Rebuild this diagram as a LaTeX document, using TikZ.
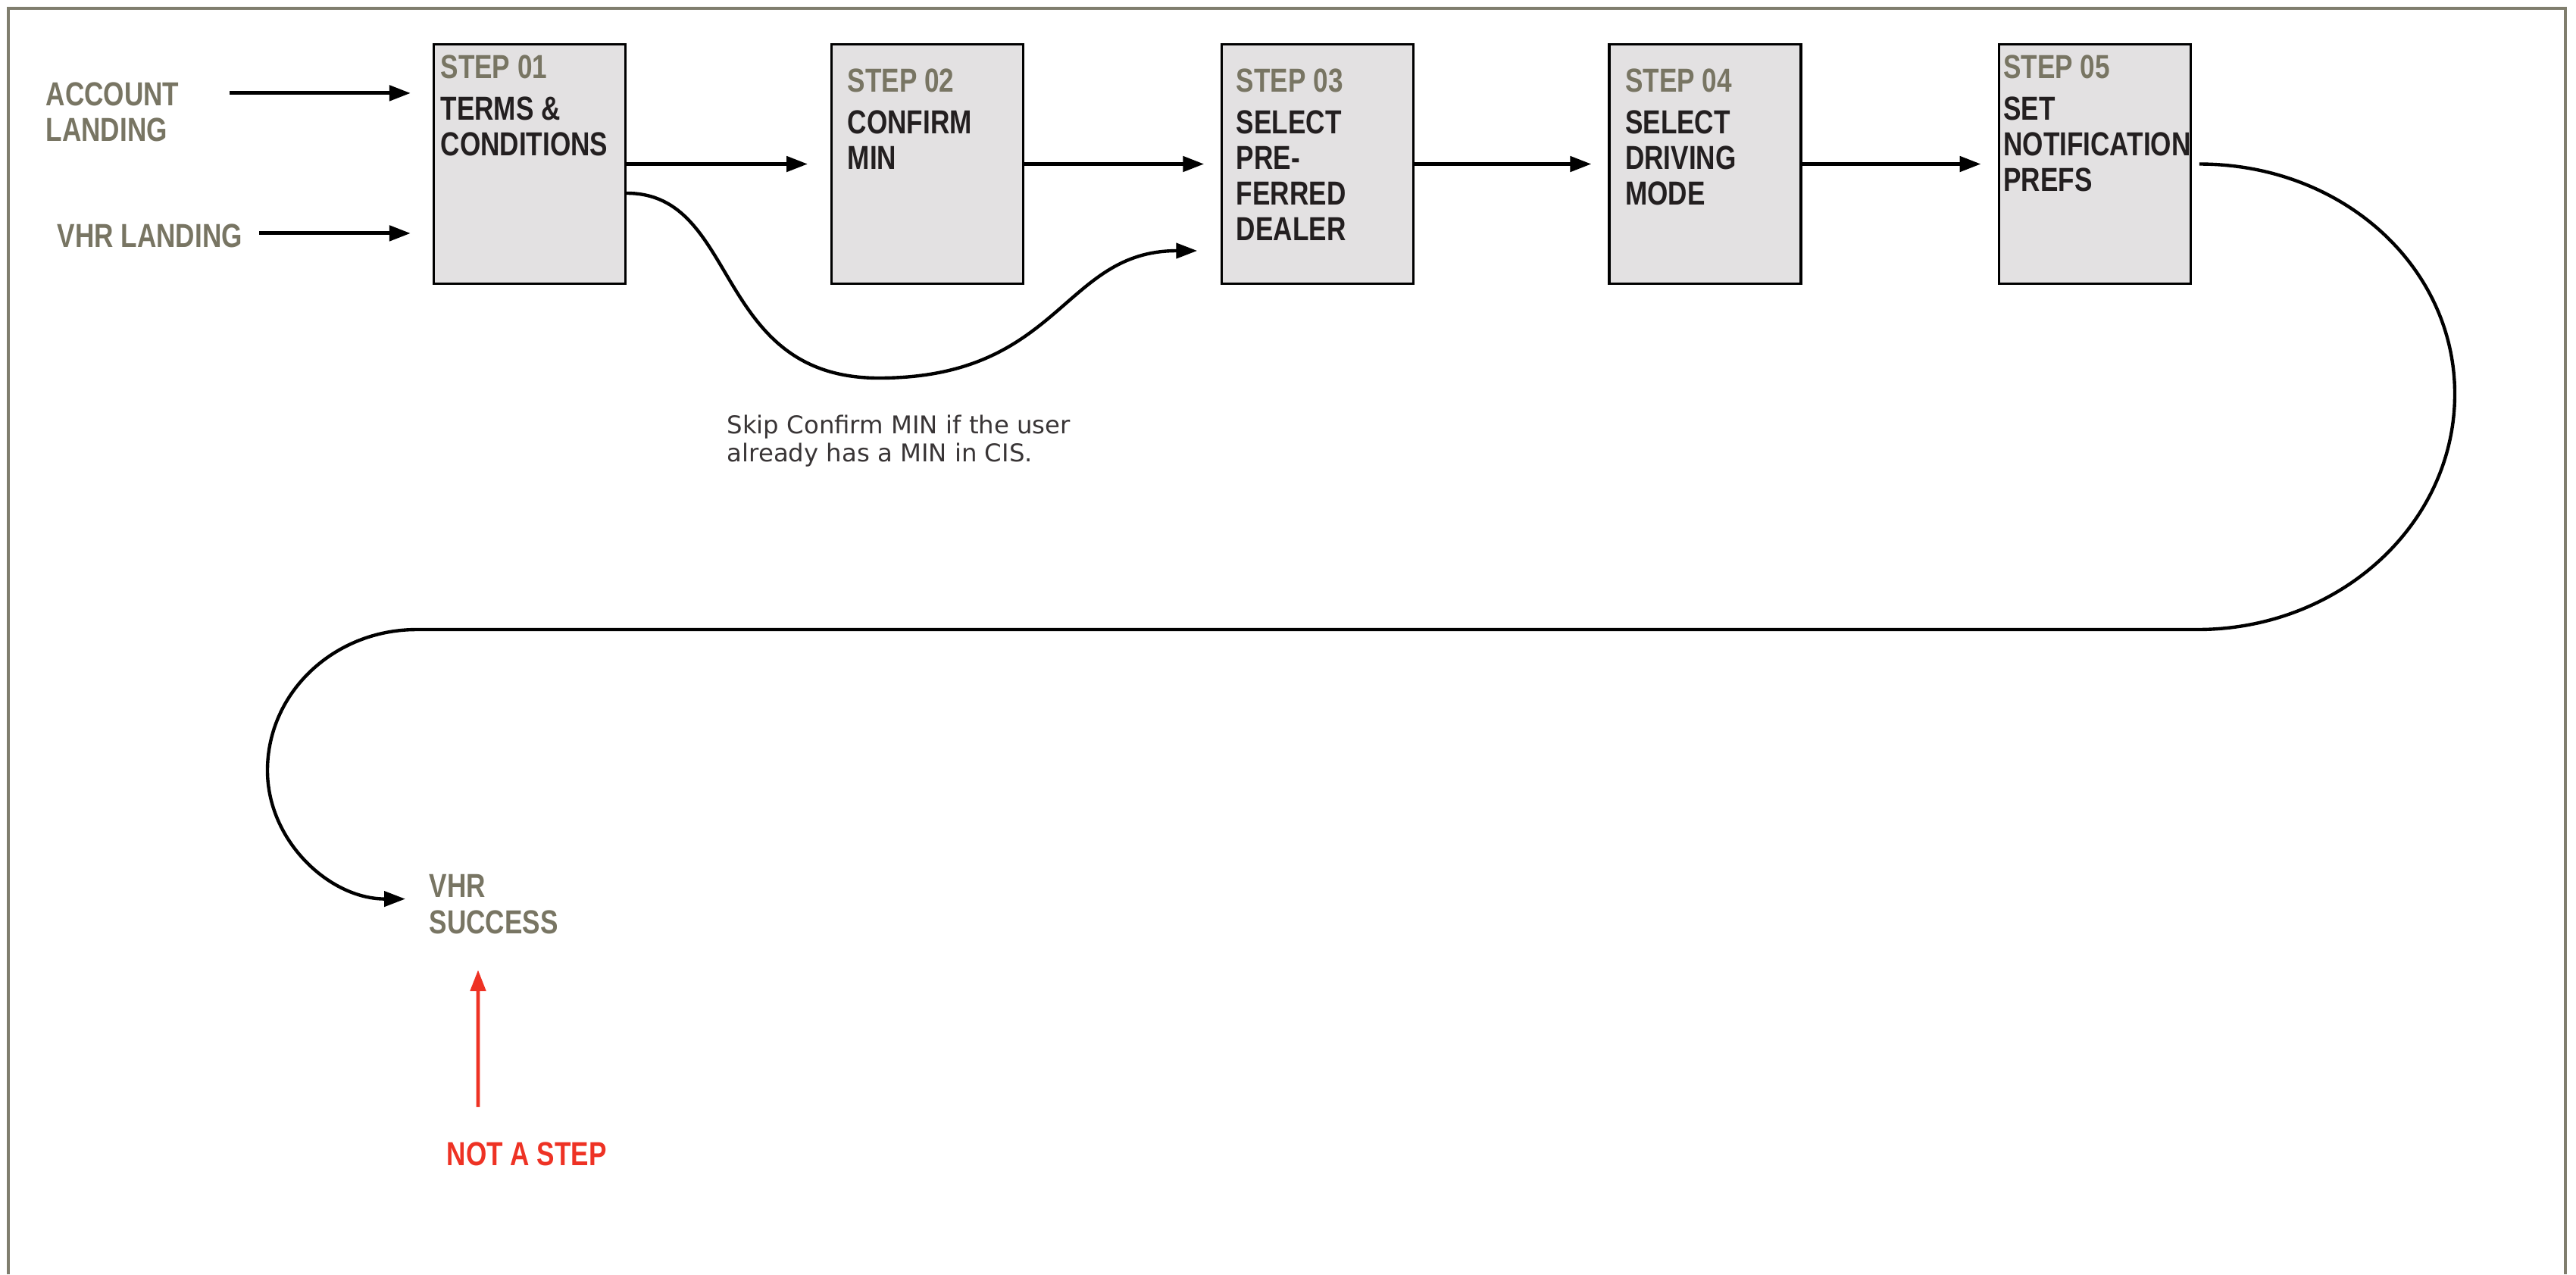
\documentclass[tikz,border=0pt]{standalone}
\usepackage{fontspec}
\usepackage{tikz}
\usetikzlibrary{arrows.meta,positioning,calc}
\newfontfamily\condfont[FakeStretch=0.8]{Liberation Sans Bold}
\newfontfamily\notefont{DejaVu Sans}
\definecolor{labelgrey}{RGB}{120,117,99}
\definecolor{framegrey}{RGB}{128,126,110}
\definecolor{boxgrey}{RGB}{227,225,226}
\definecolor{inkblack}{RGB}{35,31,32}
\definecolor{alertred}{RGB}{238,50,36}
\newcommand{\stepno}[1]{\textcolor{labelgrey}{STEP #1}}
\tikzset{
  % Step box: grey card, its text is set separately in the top-left corner
  stepbox/.style={draw, rectangle, fill=boxgrey, minimum width=2.53cm, minimum height=3.16cm,
                  line width=0.9pt, inner sep=0pt},
  steptext/.style={anchor=north west, align=left, inner sep=0pt, text=inkblack,
                   font=\condfont\fontsize{12.5}{13.4}\selectfont},
  % Entry / exit labels outside the boxes
  entrylabel/.style={steptext, text=labelgrey},
  alertlabel/.style={steptext, text=alertred},
  notelabel/.style={anchor=north west, align=left, inner sep=0pt, text=inkblack!90,
                    font=\notefont\fontsize{9.2}{10.5}\selectfont},
  % Arrows
  flowarr/.style={-{Triangle[length=2.8mm,width=2mm]}, line width=1.4pt},
  flowcurve/.style={flowarr, line width=1.25pt},
  redarr/.style={flowarr, alertred}
}
\begin{document}
\begin{tikzpicture}

\useasboundingbox (0,0) rectangle (34,-16.82);

% Page frame (open at the bottom)
\draw[framegrey, line width=1.1pt] (0.11,-16.82) -- (0.11,-0.11) -- (33.86,-0.11) -- (33.86,-16.82);

% Step boxes, left to right
\node[stepbox] (s1) at (6.99,-2.165) {};
\node[stepbox, right=2.69cm of s1] (s2) {};
\node[stepbox, right=2.59cm of s2] (s3) {};
\node[stepbox, right=2.55cm of s3] (s4) {};
\node[stepbox, right=2.58cm of s4] (s5) {};

\node[steptext] (t1) at ([xshift=1mm,yshift=-1.5mm]s1.north west)
  {\stepno{01}\\[2.3pt]TERMS \&\\CONDITIONS};
\node[steptext] (t2) at ([xshift=2.2mm,yshift=-3.3mm]s2.north west)
  {\stepno{02}\\[2.3pt]CONFIRM\\MIN};
\node[steptext] (t3) at ([xshift=2mm,yshift=-3.3mm]s3.north west)
  {\stepno{03}\\[2.3pt]SELECT\\PRE-\\FERRED\\DEALER};
\node[steptext] (t4) at ([xshift=2.2mm,yshift=-3.3mm]s4.north west)
  {\stepno{04}\\[2.3pt]SELECT\\DRIVING\\MODE};
\node[steptext] (t5) at ([xshift=0.7mm,yshift=-1.5mm]s5.north west)
  {\stepno{05}\\[2.3pt]SET\\NOTIFICATION\\PREFS};

% Entry points and end point
\node[entrylabel] (acct) at (0.60,-1.08) {ACCOUNT\\LANDING};
\node[entrylabel] (vhrland) at (0.75,-2.95) {VHR LANDING};
\node[entrylabel] (succ) at (5.66,-11.54) {VHR\\SUCCESS};
\node[alertlabel] (nas) at (5.89,-15.07) {NOT A STEP};
\node[notelabel] (skipnote) at (9.59,-5.47)
  {Skip Confirm MIN if the user\\already has a MIN in CIS.};

\coordinate (in1) at ([xshift=-2.9mm,yshift=-6.6mm]s1.north west);
\coordinate (in2) at ([xshift=-2.9mm,yshift=-25.1mm]s1.north west);
\coordinate (skipdip) at (11.60,-4.99);
\coordinate (rturn) at (32.40,-5.20);
\coordinate (rback) at (29.00,-8.31);
\coordinate (lback) at (5.50,-8.31);
\coordinate (lturn) at (3.53,-10.17);

% Arrows into step 01
\draw[flowarr] ($(acct.east |- in1)+(6.6mm,0)$) -- (in1);
\draw[flowarr] ($(vhrland.east |- in2)+(2.2mm,0)$) -- (in2);

% Main flow
\draw[flowarr, shorten >=3mm] (s1.east) -- (s2.west);
\draw[flowarr, shorten >=2.2mm] (s2.east) -- (s3.west);
\draw[flowarr, shorten >=2.2mm] (s3.east) -- (s4.west);
\draw[flowarr, shorten >=2.2mm] (s4.east) -- (s5.west);

% Skip of step 02
\draw[flowcurve] ([yshift=-3.85mm]s1.east) .. controls +(1.5,0) and +(-2.2,0) .. (skipdip)
  .. controls +(2.4,0) and +(-1.78,0) .. ([xshift=-3.1mm,yshift=-11.45mm]s3.west);

% Return loop from step 05 to VHR success
\draw[flowcurve] ([xshift=1mm]s5.east) .. controls +(1.89,0) and +(0,1.68) .. (rturn)
  .. controls +(0,-1.72) and +(1.88,0) .. (rback) -- (lback)
  .. controls +(-1.09,0) and +(0,1.03) .. (lturn)
  .. controls +(0,-0.93) and +(-1.0,0) .. ([xshift=-3.1mm,yshift=0.7mm]succ.west);

% Pointer to the end label
\draw[redarr] ([xshift=4.2mm,yshift=4.6mm]nas.north west) -- ([xshift=6.5mm,yshift=-4.7mm]succ.south west);

\end{tikzpicture}
\end{document}
